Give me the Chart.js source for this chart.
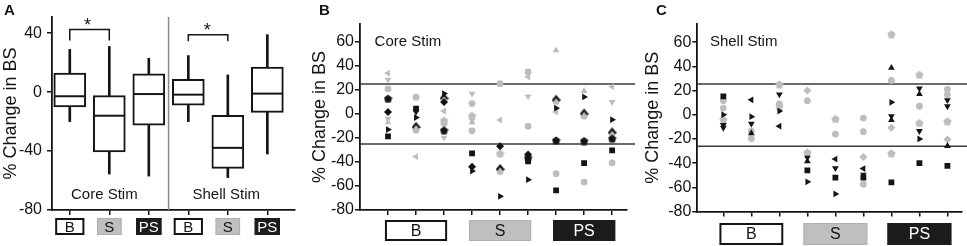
<!DOCTYPE html>
<html>
<head>
<meta charset="utf-8">
<script src="https://cdn.jsdelivr.net/npm/chart.js@4.4.1/dist/chart.umd.min.js"></script>
<style>
  body { margin: 0; background: #fff; }
  #fig { position: relative; width: 967px; height: 246px; overflow: hidden; font-family: "Liberation Sans", Arial, sans-serif; }
  #fig canvas { position: absolute; top: 0; }
  .tag { position: absolute; top: 2px; font-weight: bold; font-size: 15px; line-height: 15px; color: #141414; }
</style>
</head>
<body>
<div id="fig">
  <canvas id="panelA" width="312" height="246" style="left:0"></canvas>
  <canvas id="panelB" width="333" height="246" style="left:309px"></canvas>
  <canvas id="panelC" width="325" height="246" style="left:642px"></canvas>
  <div class="tag" style="left:4px">A</div>
  <div class="tag" style="left:319px">B</div>
  <div class="tag" style="left:656px">C</div>
</div>
<script>
// ---- data ----
const groupLabels = ["B", "S", "PS"]
const boxCategories = ["Core B", "Core S", "Core PS", "Shell B", "Shell S", "Shell PS"]
const boxQ1 = [-10, -40.5, -22.4, -8.9, -51.7, -13.7]
const boxQ3 = [13, -2.4, 12.4, 8.7, -15.7, 17]
const boxMedian = [-2.8, -16, -1.3, -1.7, -37.8, -1]
const whiskerLow = [-20, -55.6, -57, -20, -58, -42]
const whiskerHigh = [29, 31, 23, 24.8, 11.7, 39]
const sigPairs = [[0, 1], [3, 4]]
const sigTop = [42.5, 39]
const sigFoot = [35, 34.5]

const yTicksA = [-80, -40, 0, 40]
const yTicksBC = [-80, -60, -40, -20, 0, 20, 40, 60]
const thresholdsCore = [25, -25]
const thresholdsShell = [25.5, -26]

// one list per column: [value, marker]; marker = tone (k black, g grey) + shape
// shapes: C circle, S square, D diamond, P pentagon, U/V/L/R triangle up/down/left/right, A chevron
const coreStim = [
  [[34, "gL"], [28.6, "gV"], [21, "gC"], [12.8, "kP"], [1.7, "kD"], [-4, "gV"], [-7, "gU"], [-13, "kR"], [-18.6, "kS"]],
  [[14, "gC"], [4.5, "kS"], [1.7, "kV"], [-3, "kR"], [-9.4, "kA"], [-13.6, "gC"], [-35.5, "gL"]],
  [[17, "kR"], [14.5, "kA"], [10, "kD"], [2.5, "gL"], [-5.5, "gP"], [-8, "gC"], [-13.6, "kP"], [-19.7, "gV"]],
  [[17, "gV"], [8.7, "gC"], [-1.5, "gP"], [-5.5, "gV"], [-7, "gU"], [-14, "gC"], [-32.8, "kS"], [-44, "kD"], [-47.5, "kR"]],
  [[25.3, "gC"], [-5, "gL"], [-26.8, "kD"], [-33, "gP"], [-44.5, "kA"], [-48, "gC"], [-68.6, "kR"]],
  [[35, "gC"], [31, "gL"], [14.7, "gV"], [-10.2, "gC"], [-33.8, "kD"], [-36.5, "kP"], [-39.5, "kS"], [-54.7, "kR"]],
  [[53, "gU"], [13.2, "kA"], [10.5, "gC"], [4.8, "kR"], [1.7, "gL"], [-22, "kP"], [-49.7, "gC"], [-63.6, "kS"]],
  [[19.2, "gU"], [14.2, "kR"], [1.7, "kA"], [-1.8, "gC"], [-22.5, "kP"], [-41, "kS"], [-56.7, "gC"]],
  [[22.8, "gL"], [10, "gV"], [-4.7, "kR"], [-14, "kA"], [-16.3, "gC"], [-20.5, "kP"], [-30.3, "kS"], [-40.7, "gC"]]
]
const shellStim = [
  [[15.2, "kS"], [11.5, "gC"], [5.5, "gC"], [0, "kR"], [-4, "gP"], [-8.5, "kV"], [-10.8, "kV"]],
  [[12.3, "kL"], [-1.6, "kR"], [-7.5, "kV"], [-13.5, "gC"], [-15.3, "kU"], [-19.7, "gC"]],
  [[25, "gP"], [16.8, "kV"], [9, "gC"], [7, "gP"], [3, "kR"], [-9.5, "kL"]],
  [[20, "gD"], [11.6, "gC"], [-31.3, "gP"], [-35.5, "kV"], [-38.5, "kU"], [-46, "kS"], [-55.5, "kR"]],
  [[-3.5, "gP"], [-16, "gC"], [-36.7, "kL"], [-44.2, "kV"], [-52, "kS"], [-65.5, "kR"]],
  [[-2.8, "gC"], [-14, "gC"], [-35, "gD"], [-44.5, "kL"], [-49.5, "kV"], [-52, "kS"], [-57.5, "gC"]],
  [[66.5, "gP"], [38.7, "kU"], [28.3, "gC"], [10.3, "kR"], [-1.2, "kV"], [-4.5, "kU"], [-10.7, "gD"], [-32, "gP"], [-56, "kS"]],
  [[33, "gP"], [21.8, "kV"], [17, "kU"], [7, "gC"], [-6.8, "gP"], [-13.5, "kV"], [-20, "kR"], [-40, "kS"]],
  [[21, "gC"], [16.6, "gC"], [12, "kV"], [7, "kV"], [-5.5, "gP"], [-20.5, "gD"], [-25.8, "kU"], [-42.2, "kS"]]
]

// ---- look ----
const INK = "#141414"
const GREY = "#bdbdbd"
Chart.defaults.font.family = "'Liberation Sans', Arial, sans-serif"
Chart.defaults.color = INK

function markerImage(color, kind) {
  const c = document.createElement("canvas")
  c.width = 9
  c.height = 9
  const g = c.getContext("2d")
  g.fillStyle = color
  g.strokeStyle = color
  g.beginPath()
  if (kind === "P") {
    for (let i = 0; i < 5; i++) {
      const a = -Math.PI / 2 + i * 2 * Math.PI / 5
      g.lineTo(4.5 + 4.3 * Math.cos(a), 4.9 + 4.3 * Math.sin(a))
    }
    g.closePath()
    g.fill()
  } else {
    g.lineWidth = 2.2
    g.moveTo(0.8, 7.2)
    g.lineTo(4.5, 2.8)
    g.lineTo(8.2, 7.2)
    g.stroke()
  }
  return c
}

const images = {
  gP: markerImage(GREY, "P"), kP: markerImage(INK, "P"),
  gA: markerImage(GREY, "A"), kA: markerImage(INK, "A")
}

function shapeOf(m) {
  const s = m[1]
  if (s === "P" || s === "A") return { style: images[m], radius: 4, rotation: 0 }
  if (s === "C") return { style: "circle", radius: 3.4, rotation: 0 }
  if (s === "S") return { style: "rect", radius: 4.1, rotation: 0 }
  if (s === "D") return { style: "rectRot", radius: 4, rotation: 0 }
  const rot = { U: 0, V: 180, L: -90, R: 90 }[s]
  return { style: "triangle", radius: 3.9, rotation: rot }
}

function scatterSets(columns) {
  return ["g", "k"].map(tone => {
    const pts = []
    columns.forEach((col, i) => col.forEach(([v, m]) => {
      if (m[0] === tone) pts.push({ x: i, y: v, m })
    }))
    return {
      type: "scatter",
      data: pts.map(p => ({ x: p.x, y: p.y })),
      pointStyle: pts.map(p => shapeOf(p.m).style),
      pointRadius: pts.map(p => shapeOf(p.m).radius),
      pointRotation: pts.map(p => shapeOf(p.m).rotation),
      pointBackgroundColor: tone === "g" ? GREY : INK,
      pointBorderWidth: 0,
      order: tone === "g" ? 2 : 1
    }
  })
}

const boxLook = {
  B: { fill: "#fff", stroke: INK, text: INK, lineWidth: 2 },
  S: { fill: "#bfbfbf", stroke: "#b0b0b0", text: INK, lineWidth: 1 },
  PS: { fill: "#1c1c1c", stroke: "#1c1c1c", text: "#fff", lineWidth: 1 }
}

// texts and the B / S / PS boxes under the x axis
const figureExtras = {
  id: "figureExtras",
  afterDatasetsDraw(chart, args, opts) {
    const { ctx, chartArea } = chart
    const x = chart.scales.x
    const y = chart.scales.y
    ctx.save()
    for (const n of opts.notes || []) {
      ctx.font = n.font
      ctx.fillStyle = INK
      ctx.textAlign = n.align || "center"
      ctx.textBaseline = "middle"
      ctx.fillText(n.text, x.getPixelForValue(n.x), y.getPixelForValue(n.y))
    }
    const b = opts.boxes
    if (b) {
      const top = chartArea.bottom + b.offset
      for (const item of b.items) {
        const look = boxLook[item.label]
        const l = x.getPixelForValue(item.center - item.half)
        const r = x.getPixelForValue(item.center + item.half)
        ctx.fillStyle = look.fill
        ctx.fillRect(l, top, r - l, b.height)
        ctx.lineWidth = look.lineWidth
        ctx.strokeStyle = look.stroke
        ctx.strokeRect(l + look.lineWidth / 2, top + look.lineWidth / 2, r - l - look.lineWidth, b.height - look.lineWidth)
        ctx.fillStyle = look.text
        ctx.font = b.font
        ctx.textAlign = "center"
        ctx.textBaseline = "middle"
        ctx.fillText(item.label, (l + r) / 2, top + b.height / 2 + 1)
      }
    }
    ctx.restore()
  }
}

function axisX(min, max, count, height) {
  return {
    type: "linear", min, max, offset: false,
    afterBuildTicks: s => { s.ticks = Array.from({ length: count }, (_, i) => ({ value: i })) },
    afterFit: s => { s.height = height; s.paddingLeft = 0; s.paddingRight = 0 },
    ticks: { display: false },
    grid: { offset: false, drawOnChartArea: false, drawTicks: true, tickLength: 5, color: INK, lineWidth: 1.5 },
    border: { display: true, color: INK, width: 1.8 }
  }
}

function axisY(min, max, ticks, width, pad) {
  return {
    min, max,
    afterBuildTicks: s => { s.ticks = ticks.map(v => ({ value: v })) },
    afterFit: s => { s.width = width; s.paddingTop = 0; s.paddingBottom = 0 },
    ticks: { font: { size: 16 }, color: INK, padding: pad },
    grid: { drawOnChartArea: false, drawTicks: true, tickLength: 5, color: INK, lineWidth: 1.5 },
    border: { display: true, color: INK, width: 1.8 },
    title: { display: true, text: "% Change in BS", font: { size: 18 }, color: INK, padding: { top: 0, bottom: 0 } }
  }
}

const common = {
  responsive: false,
  animation: false,
  events: [],
  plugins: { legend: { display: false }, tooltip: { enabled: false } }
}

// ---- panel A: box plots ----
const yMaxA = 51
const groupItemsA = boxCategories.map((c, i) => ({
  label: groupLabels[i % 3], center: i, half: [0.37, 0.31, 0.32][i % 3]
}))

new Chart(document.getElementById("panelA"), {
  type: "bar",
  data: {
    datasets: [
      { type: "line", data: [{ x: 2.5, y: -80 }, { x: 2.5, y: yMaxA }], borderColor: "#8a8a8a", borderWidth: 1.5, pointRadius: 0, order: 6 },
      {
        data: boxCategories.map((c, i) => ({ x: i, y: [whiskerLow[i], whiskerHigh[i]] })),
        backgroundColor: INK, maxBarThickness: 2, grouped: false, categoryPercentage: 1, barPercentage: 1, order: 5
      },
      {
        data: boxCategories.map((c, i) => ({ x: i, y: [boxQ1[i], boxQ3[i]] })),
        backgroundColor: "#fff", borderColor: INK, borderWidth: 2, borderSkipped: false,
        maxBarThickness: 32, grouped: false, categoryPercentage: 1, barPercentage: 1, order: 4
      },
      {
        type: "line", data: boxMedian.map((v, i) => ({ x: i, y: v })), showLine: false,
        pointStyle: "line", pointRadius: 15, pointBorderWidth: 2, pointBorderColor: INK, order: 3
      },
      ...sigPairs.map(([a, b], k) => ({
        type: "line",
        data: [{ x: a, y: sigFoot[k] }, { x: a, y: sigTop[k] }, { x: b, y: sigTop[k] }, { x: b, y: sigFoot[k] }],
        borderColor: INK, borderWidth: 1.5, pointRadius: 0, order: 2
      }))
    ]
  },
  options: {
    ...common,
    layout: { padding: { top: 8, right: 5, left: 0, bottom: 0 } },
    scales: {
      x: axisX(-0.45, 5.7, boxCategories.length, 36),
      y: axisY(-80, yMaxA, yTicksA, 52, 5)
    },
    plugins: {
      ...common.plugins,
      figureExtras: {
        notes: [
          { text: "*", x: 0.45, y: 45, font: "18px 'Liberation Sans'" },
          { text: "*", x: 3.48, y: 41.5, font: "18px 'Liberation Sans'" },
          { text: "Core Stim", x: 0.875, y: -69.5, font: "15px 'Liberation Sans'" },
          { text: "Shell Stim", x: 3.96, y: -69.5, font: "15px 'Liberation Sans'" }
        ],
        boxes: { offset: 8, height: 17, font: "15px 'Liberation Sans'", items: groupItemsA }
      }
    }
  },
  plugins: [figureExtras]
})

// ---- panels B and C: individual points ----
function scatterPanel(id, columns, thresholds, o) {
  new Chart(document.getElementById(id), {
    type: "scatter",
    data: {
      datasets: [
        ...thresholds.map(t => ({
          type: "line", data: [{ x: o.xMin, y: t }, { x: o.lineEnd, y: t }],
          borderColor: "#3a3a3a", borderWidth: 1.5, pointRadius: 0, clip: false, order: 3
        })),
        ...scatterSets(columns)
      ]
    },
    options: {
      ...common,
      layout: { padding: { top: 24, right: o.right, left: 0, bottom: 0 } },
      scales: {
        x: axisX(o.xMin, o.xMax, columns.length, o.xHeight),
        y: axisY(-80, 75, yTicksBC, o.yWidth, 1)
      },
      plugins: {
        ...common.plugins,
        figureExtras: {
          notes: [{ text: o.title, x: -0.48, y: o.titleY, align: "left", font: "15px 'Liberation Sans'" }],
          boxes: {
            offset: o.boxOffset, height: o.boxHeight, font: "16px 'Liberation Sans'",
            items: groupLabels.map((g, i) => ({ label: g, center: 1 + 3 * i, half: o.boxHalf }))
          }
        }
      }
    },
    plugins: [figureExtras]
  })
}

scatterPanel("panelB", coreStim, thresholdsCore, {
  xMin: -1, xMax: 8.52, lineEnd: 8.82, right: 15.3, xHeight: 36, yWidth: 51,
  title: "Core Stim", titleY: 59.8, boxOffset: 10, boxHeight: 21, boxHalf: 1.11
})
scatterPanel("panelC", shellStim, thresholdsShell, {
  xMin: -0.93, xMax: 8.51, lineEnd: 8.75, right: 5.3, xHeight: 34.5, yWidth: 55.3,
  title: "Shell Stim", titleY: 60.5, boxOffset: 11.5, boxHeight: 22, boxHalf: 1.14
})
</script>
</body>
</html>
